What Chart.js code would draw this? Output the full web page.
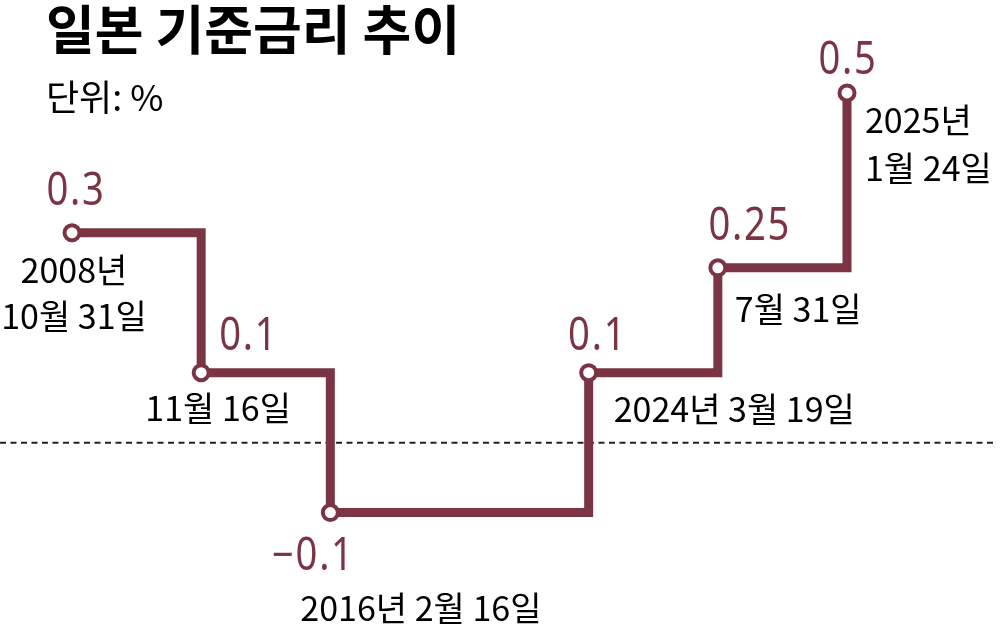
<!DOCTYPE html>
<html>
<head>
<meta charset="utf-8">
<script src="https://cdn.jsdelivr.net/npm/chart.js@4"></script>
<style>
  html, body { margin: 0; padding: 0; background: #fff; }
  #wrap { position: relative; width: 1000px; height: 629px; }
  canvas { display: block; }
</style>
</head>
<body>
<div id="wrap"><canvas id="c" width="1000" height="629"></canvas></div>
<script>
// ---- data ----
const title = '일본 기준금리 추이';
const unitLabel = '단위: %';
// decision dates (blank slot = long gap 2016→2024)
const dateLabels = [
  ['2008년', '10월 31일'],
  ['11월 16일'],
  ['2016년 2월 16일'],
  [],
  ['2024년 3월 19일'],
  ['7월 31일'],
  ['2025년', '1월 24일']
];
const rates = [0.3, 0.1, -0.1, null, 0.1, 0.25, 0.5];
const rateLabels = ['0.3', '0.1', '−0.1', '', '0.1', '0.25', '0.5'];

// ---- label layout (offsets from each point, px; value dy = text baseline) ----
const valueLayout = [
  { dx: 3, dy: -28, align: 'center' },
  { dx: 17, dy: -23, align: 'left' },
  { dx: -18, dy: 57, align: 'center' },
  null,
  { dx: 8, dy: -23, align: 'center' },
  { dx: 31, dy: -28, align: 'center' },
  { dx: 0, dy: -19, align: 'center' }
];
const dateLayout = [
  { dx: 2, dy: 37, lh: 46, align: 'center' },
  { dx: 17, dy: 35, lh: 46, align: 'center' },
  { dx: -30, dy: 95, lh: 46, align: 'left' },
  null,
  { dx: 25, dy: 36, lh: 46, align: 'left' },
  { dx: 17, dy: 41, lh: 46, align: 'left' },
  { dx: 18, dy: 27, lh: 48, align: 'left' }
];

const MAROON = '#7b3444';
const DATE_FONT = '"Noto Sans CJK KR", "Noto Sans", sans-serif';
const NUM_FONT = '"Noto Sans", "Noto Sans CJK KR", sans-serif';

function drawText(ctx, text, x, y, align, sx) {
  ctx.save();
  ctx.translate(x, y);
  ctx.scale(sx, 1);
  ctx.textAlign = align;
  ctx.fillText(text, 0, 0);
  ctx.restore();
}

const overlay = {
  id: 'overlay',
  beforeDatasetsDraw(chart) {
    const ctx = chart.ctx;
    const y0 = chart.scales.y.getPixelForValue(0);
    ctx.save();
    ctx.strokeStyle = '#222';
    ctx.lineWidth = 2;
    ctx.setLineDash([6, 4.5]);
    ctx.beginPath();
    ctx.moveTo(0, y0);
    ctx.lineTo(996, y0);
    ctx.stroke();
    ctx.restore();
  },
  afterDatasetsDraw(chart) {
    const ctx = chart.ctx;
    const meta = chart.getDatasetMeta(0);
    ctx.save();
    ctx.fillStyle = '#000';
    ctx.textBaseline = 'middle';
    ctx.font = 'bold 53px ' + DATE_FONT;
    drawText(ctx, title, 46, 30, 'left', 1.0);
    ctx.font = '36px ' + DATE_FONT;
    drawText(ctx, unitLabel, 46, 97, 'left', 1.0);

    meta.data.forEach((pt, i) => {
      if (rates[i] === null || rates[i] === undefined) return;
      const v = valueLayout[i];
      if (v) {
        ctx.fillStyle = MAROON;
        ctx.font = '45px ' + NUM_FONT;
        ctx.textBaseline = 'alphabetic';
        ctx.letterSpacing = '2px';
        drawText(ctx, rateLabels[i], pt.x + v.dx + 1, pt.y + v.dy, v.align, 0.85);
        ctx.letterSpacing = '0px';
      }
      const d = dateLayout[i];
      if (d) {
        ctx.fillStyle = '#000';
        ctx.font = '34px ' + DATE_FONT;
        ctx.textBaseline = 'middle';
        dateLabels[i].forEach((line, k) => {
          drawText(ctx, line, pt.x + d.dx, pt.y + d.dy + k * d.lh, d.align, 1.0);
        });
      }
    });
    ctx.restore();
  }
};

new Chart(document.getElementById('c'), {
  type: 'line',
  data: {
    labels: dateLabels.map(l => l.join(' ')),
    datasets: [{
      data: rates,
      stepped: 'before',
      spanGaps: true,
      borderColor: MAROON,
      borderWidth: 9,
      borderCapStyle: 'butt',
      borderJoinStyle: 'miter',
      pointRadius: 7.5,
      pointBorderWidth: 4,
      pointBackgroundColor: '#fff',
      pointBorderColor: MAROON,
      pointHoverRadius: 7.5,
      clip: false,
      fill: false
    }]
  },
  options: {
    responsive: false,
    animation: false,
    events: [],
    layout: { padding: { left: 72, right: 153, top: 23, bottom: 11 } },
    plugins: { legend: { display: false }, tooltip: { enabled: false } },
    scales: {
      x: { type: 'category', display: false, offset: false },
      y: { type: 'linear', display: false, min: -0.25, max: 0.6 }
    }
  },
  plugins: [overlay]
});
</script>
</body>
</html>
